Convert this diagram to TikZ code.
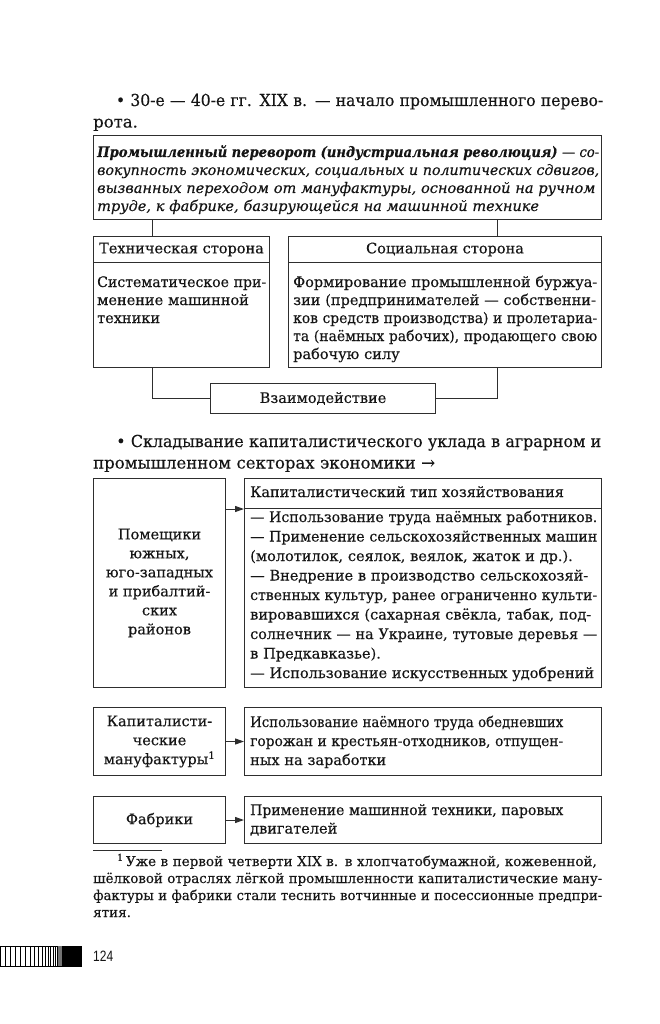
\documentclass[tikz,border=0pt]{standalone}
\usepackage{fontspec}
\setmainfont{DejaVu Serif}[FakeBold=0.3]
\setsansfont{Liberation Sans}
\usetikzlibrary{arrows.meta}
\definecolor{ink}{HTML}{151515}
\definecolor{edge}{HTML}{2E2E2E}
\newsavebox\lnbox
% justified line (compressed if too wide)
\newcommand\jl[1]{\sbox\lnbox{#1}\ifdim\wd\lnbox>\linewidth\resizebox{\linewidth}{\ht\lnbox}{\usebox\lnbox}\else\makebox[\linewidth][s]{#1}\fi\par}
% last / ragged line (compressed if too wide)
\newcommand\lastln[1]{\sbox\lnbox{#1}\ifdim\wd\lnbox>\linewidth\resizebox{\linewidth}{\ht\lnbox}{\usebox\lnbox}\else\makebox[\linewidth][l]{\usebox\lnbox}\fi\par}
\begin{document}
\begin{tikzpicture}[x=1pt,y=-1pt,
  box/.style={draw=edge, line width=1pt, inner sep=0pt, anchor=north west, text=ink,
    font=\fontsize{14.5}{19}\selectfont, align=center},
  conn/.style={draw=edge, line width=1pt},
  arr/.style={draw=edge, line width=1pt, -{Triangle[length=9pt,width=6pt]}},
  maintext/.style={inner sep=0pt, anchor=base west, text=ink, font=\fontsize{16.5}{21.5}\selectfont},
  bodytext/.style={inner sep=0pt, anchor=base west, text=ink, font=\fontsize{14.5}{18}\selectfont},
  notetext/.style={inner sep=0pt, anchor=base west, text=ink, font=\fontsize{13.5}{17}\selectfont}
]
\useasboundingbox[fill=white] (0,0) rectangle (660,1024);

% ---- first bullet
\node[maintext, text width=510pt] (b1) at (93,106)
  {\jl{\hspace*{24pt}• 30-е — 40-е гг. XIX в. — начало промышленного перево-}\lastln{рота.}};

% ---- definition box
\node[box, minimum width=508pt, minimum height=84pt] (def) at (93,135) {};
\node[bodytext, text width=502pt] (deft) at (97,157)
  {\itshape
   \jl{\textbf{Промышленный переворот (индустриальная революция)} — со-}
   \jl{вокупность экономических, социальных и политических сдвигов,}
   \jl{вызванных переходом от мануфактуры, основанной на ручном}
   \lastln{труде, к фабрике, базирующейся на машинной технике}};

% ---- technical side
\node[box, minimum width=176pt, minimum height=26pt] (techhead) at (93,236) {Техническая сторона};
\node[box, minimum width=176pt, minimum height=105pt] (techbody) at (93,262) {};
\node[bodytext, text width=169pt] (techt) at (97,287)
  {\lastln{Систематическое при-}\lastln{менение машинной}\lastln{техники}};

% ---- social side
\node[box, minimum width=313pt, minimum height=26pt] (sochead) at (288,236) {Социальная сторона};
\node[box, minimum width=313pt, minimum height=105pt] (socbody) at (288,262) {};
\node[bodytext, text width=304pt] (soct) at (293,287)
  {\jl{Формирование промышленной буржуа-}
   \jl{зии (предпринимателей — собственни-}
   \jl{ков средств производства) и пролетариа-}
   \jl{та (наёмных рабочих), продающего свою}
   \lastln{рабочую силу}};

% ---- interaction
\node[box, minimum width=225pt, minimum height=30pt] (vz) at (210,383) {Взаимодействие};

\draw[conn] ([xshift=59pt]def.south west) -- ([xshift=59pt]techhead.north west);
\draw[conn] ([xshift=404pt]def.south west) -- ([xshift=209pt]sochead.north west);
\draw[conn] ([xshift=59pt]techbody.south west) |- (vz.west);
\draw[conn] ([xshift=209pt]socbody.south west) |- (vz.east);

% ---- second bullet
\node[maintext, text width=508pt] (b2) at (93,447)
  {\jl{\hspace*{24pt}• Складывание капиталистического уклада в аграрном и}\lastln{промышленном секторах экономики →}};

% ---- landowners
\node[box, minimum width=132pt, minimum height=209pt] (pom) at (93,478)
  {Помещики\\южных,\\юго-западных\\и прибалтий-\\ских\\районов};
\node[box, minimum width=357pt, minimum height=30pt] (kaphead) at (244,478) {};
\node[bodytext, anchor=base west] (kaph) at (250,497) {Капиталистический тип хозяйствования};
\node[box, minimum width=357pt, minimum height=179pt] (kapbody) at (244,508) {};
\node[bodytext, text width=347pt, font=\fontsize{14.5}{19.5}\selectfont] (kapt) at (250,522)
  {\lastln{— Использование труда наёмных работников.}
   \jl{— Применение сельскохозяйственных машин}
   \lastln{(молотилок, сеялок, веялок, жаток и др.).}
   \jl{— Внедрение в производство сельскохозяй-}
   \jl{ственных культур, ранее ограниченно культи-}
   \jl{вировавшихся (сахарная свёкла, табак, под-}
   \jl{солнечник — на Украине, тутовые деревья —}
   \lastln{в Предкавказье).}
   \lastln{— Использование искусственных удобрений}};
\draw[arr] (pom.east |- kaphead.south) -- (kaphead.south west);

% ---- manufactories
\node[box, minimum width=132pt, minimum height=68pt] (manuf) at (93,707)
  {Капиталисти-\\ческие\\мануфактуры\textsuperscript{1}};
\node[box, minimum width=357pt, minimum height=68pt] (manufR) at (244,707) {};
\node[bodytext, text width=313pt, font=\fontsize{14.5}{19}\selectfont] (manuft) at (250,727)
  {\jl{Использование наёмного труда обедневших}
   \jl{горожан и крестьян-отходников, отпущен-}
   \lastln{ных на заработки}};
\draw[arr] (manuf.east) -- (manufR.west);

% ---- factories
\node[box, minimum width=132pt, minimum height=47pt] (fab) at (93,796) {Фабрики};
\node[box, minimum width=357pt, minimum height=47pt] (fabR) at (244,796) {};
\node[bodytext, text width=313pt, font=\fontsize{14.5}{18.5}\selectfont] (fabt) at (250,815)
  {\jl{Применение машинной техники, паровых}
   \lastln{двигателей}};
\draw[arr] (fab.east) -- (fabR.west);

% ---- footnote
\draw[edge, line width=1pt] (93,850) -- (162,850);
\node[notetext, text width=509pt] (note) at (93,866)
  {\jl{\hspace*{24pt}\textsuperscript{1}\,Уже в первой четверти XIX в. в хлопчатобумажной, кожевенной,}
   \jl{шёлковой отраслях лёгкой промышленности капиталистические ману-}
   \jl{фактуры и фабрики стали теснить вотчинные и посессионные предпри-}
   \lastln{ятия.}};

% ---- page number and barcode
\node[inner sep=0pt, anchor=base west, text=ink, font=\sffamily\fontsize{15}{15}\selectfont] (pg) at (93,961.5)
  {\scalebox{0.8}[1]{124}};
\draw[black, line width=0.8pt] (0,946) -- (82,946) (0,966) -- (82,966);
\foreach \xx in {0.5,5,10,15,20,25,30,34.5,38.5,42,45,48,50.5,53,55.2,57.2,59,60.7}
  \draw[black, line width=0.8pt] (\xx,946) -- (\xx,966);
\fill[black] (62,946) rectangle (82,966);
\fill[black!55] (58,946) rectangle (62,966);
\end{tikzpicture}
\end{document}
